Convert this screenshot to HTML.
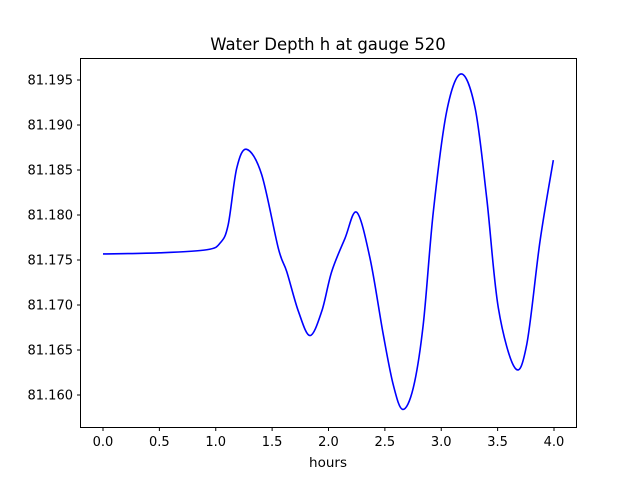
<!DOCTYPE html>
<html><head><meta charset="utf-8"><style>
body{margin:0;background:#fff}
svg text{font-family:"DejaVu Sans","Liberation Sans",sans-serif;fill:#000}
</style></head><body>
<svg id="chart" width="640" height="480">
<rect width="640" height="480" fill="#fff"/>
<text x="328" y="50" font-size="16.5" text-anchor="middle">Water Depth h at gauge 520</text>
<g id="xt"></g>
<g id="yt"></g>
<path id="line" fill="none" stroke="#0000ff" stroke-width="1.6"/>
<rect x="80.5" y="58.5" width="496" height="369" fill="none" stroke="#000" stroke-width="1"/>
<text x="328" y="467" font-size="13.5" text-anchor="middle">hours</text>
</svg>
<script>
const xTicks=[0,0.5,1,1.5,2,2.5,3,3.5,4];
const xTickLabels=["0.0","0.5","1.0","1.5","2.0","2.5","3.0","3.5","4.0"];
const yTicks=[81.160,81.165,81.170,81.175,81.180,81.185,81.190,81.195];
const yTickLabels=["81.160","81.165","81.170","81.175","81.180","81.185","81.190","81.195"];
const hours=[0,0.5,0.92,1.04,1.11,1.186,1.274,1.407,1.555,1.63,1.733,1.836,1.94,2.028,2.146,2.25,2.368,2.486,2.575,2.658,2.752,2.84,2.93,3.048,3.175,3.30,3.403,3.506,3.654,3.758,3.876,3.994];
const depth=[81.17567,81.1758,81.17614,81.1769,81.1789,81.1852,81.1873,81.1845,81.1763,81.1737,81.1693,81.1666,81.1693,81.1737,81.1774,81.1803,81.1752,81.1667,81.1611,81.1584,81.1608,81.1678,81.1804,81.1915,81.19567,81.1919,81.1819,81.1697,81.1630,81.1656,81.1771,81.1861];
const X=v=>103+v*112.75;
const Y=v=>80+(81.195-v)*9000;
const NS="http://www.w3.org/2000/svg";
const xt=document.getElementById('xt'),yt=document.getElementById('yt');
xTicks.forEach((t,i)=>{
 const l=document.createElementNS(NS,'line');
 l.setAttribute('x1',X(t));l.setAttribute('x2',X(t));l.setAttribute('y1',427.5);l.setAttribute('y2',431);l.setAttribute('stroke','#000');
 
 
 xt.appendChild(l);
 const s=document.createElementNS(NS,'text');
 s.setAttribute('x',X(t));s.setAttribute('y',446);s.setAttribute('font-size','13');s.setAttribute('text-anchor','middle');
 s.textContent=xTickLabels[i];
 
 
 xt.appendChild(s);
});
yTicks.forEach((t,i)=>{
 const l=document.createElementNS(NS,'line');
 l.setAttribute('x1',77);l.setAttribute('x2',80.5);l.setAttribute('y1',Y(t));l.setAttribute('y2',Y(t));l.setAttribute('stroke','#000');
 
 
 yt.appendChild(l);
 const s=document.createElementNS(NS,'text');
 s.setAttribute('x',73);s.setAttribute('y',Y(t)+4.5);s.setAttribute('font-size','13');s.setAttribute('text-anchor','end');
 s.textContent=yTickLabels[i];
 
 
 yt.appendChild(s);
});
const P=hours.map((h,i)=>[X(h),Y(depth[i])]);
let d='M'+P[0][0]+','+P[0][1];
for(let i=0;i<P.length-1;i++){
 const p0=P[Math.max(0,i-1)],p1=P[i],p2=P[i+1],p3=P[Math.min(P.length-1,i+2)];
 const c1=[p1[0]+(p2[0]-p0[0])/6,p1[1]+(p2[1]-p0[1])/6];
 const c2=[p2[0]-(p3[0]-p1[0])/6,p2[1]-(p3[1]-p1[1])/6];
 d+=' C'+c1+' '+c2+' '+p2;
}
document.getElementById('line').setAttribute('d',d);
</script>
</body></html>
